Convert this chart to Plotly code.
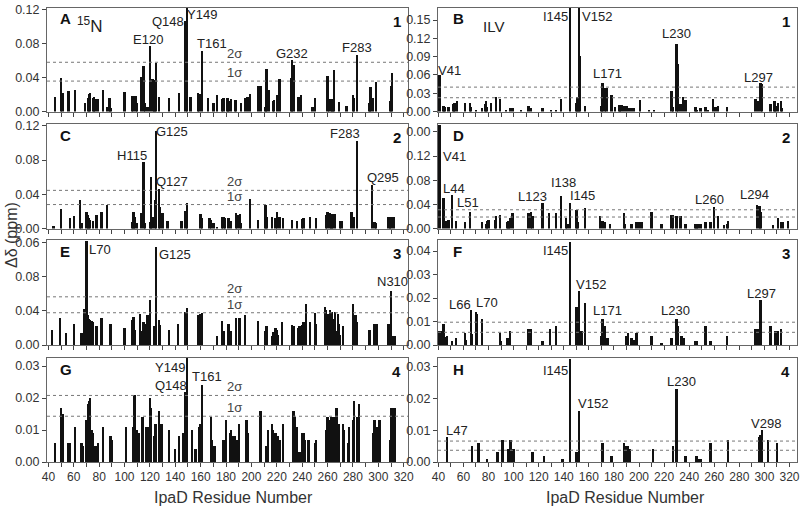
import plotly.graph_objects as go

# ---------------- data ----------------
A_res = [45,50,51,56,61,69,71,72,73,75,76,77,79,83,86,88,89,100,106,107,109,110,113,115,116,118,120,122,123,124,
         125,127,135,143,148,149,152,158,159,161,166,170,173,177,178,181,182,184,187,188,192,195,197,199,205,207,211,212,214,217,
         218,220,222,231,232,233,237,239,248,250,260,261,263,264,265,269,275,280,281,283,293,294,296,298,309,310,311]
A_val = [.018,.040,.022,.025,.026,.011,.017,.021,.022,.017,.018,.015,.015,.026,.006,.016,.005,.024,.019,.019,
         .019,.010,.041,.054,.011,.006,.077,.039,.038,.035,.058,.018,.017,.022,.107,.122,.018,.022,.021,.072,
         .017,.011,.020,.015,.016,.017,.013,.015,.014,.014,.011,.016,.018,.021,.031,.030,.006,.050,.026,.013,
         .014,.020,.039,.040,.061,.055,.018,.020,.006,.016,.042,.015,.015,.013,.049,.012,.007,.020,.017,.067,
         .011,.029,.017,.035,.013,.031,.046]

B_res = [41,44,45,48,52,53,55,61,65,66,70,75,77,78,79,82,86,89,94,97,99,106,112,114,123,130,134,138,145,150,
         151,152,153,157,170,171,173,174,178,181,184,185,186,188,190,192,194,196,201,208,212,226,227,230,231,233,235,237,245,246,
         249,253,255,259,261,263,270,293,295,297,298,305,308,309,311,313,314]
B_val = [.061,.010,.009,.008,.013,.015,.018,.014,.015,.008,.003,.007,.013,.018,.008,.015,.024,.022,.004,.006,
         .007,.004,.010,.007,.007,.003,.004,.021,.175,.015,.024,.175,.092,.010,.010,.048,.040,.039,.028,.008,
         .011,.011,.011,.010,.010,.006,.006,.006,.019,.003,.002,.035,.008,.112,.079,.013,.024,.019,.008,.004,
         .007,.008,.004,.021,.008,.010,.008,.022,.018,.048,.046,.013,.018,.010,.015,.018,.007]

C_res = [44,50,57,60,65,66,70,71,72,73,75,78,82,86,106,107,108,110,113,115,116,120,121,122,124,125,127,128,130,134,
         145,148,149,160,161,167,168,170,173,177,178,179,182,184,188,189,191,192,199,205,211,212,216,219,220,222,225,232,236,240,
         241,246,251,259,260,262,263,264,266,270,271,279,281,283,295,297,298,308,309,310,312]
C_val = [.003,.023,.012,.015,.033,.007,.019,.016,.012,.010,.009,.016,.019,.028,.008,.019,.014,.007,.018,.078,
         .007,.008,.060,.014,.033,.114,.046,.025,.018,.009,.009,.021,.030,.017,.012,.012,.010,.006,.002,.014,
         .014,.012,.012,.009,.018,.016,.017,.006,.034,.010,.028,.014,.014,.012,.019,.014,.012,.010,.009,.011,
         .012,.014,.012,.016,.019,.018,.016,.017,.017,.009,.009,.019,.014,.102,.051,.008,.007,.014,.014,.014,.014]

D_res = [41,44,46,48,51,54,61,65,75,78,79,80,85,86,89,95,96,97,99,112,114,115,123,128,134,138,142,143,145,150,
         151,157,169,171,173,177,188,189,194,198,200,202,210,218,226,227,230,233,237,245,246,247,249,253,257,260,263,268,270,271,
         294,296,297,307,311,313,315,319]
D_val = [.172,.050,.012,.014,.056,.012,.011,.027,.011,.008,.012,.014,.014,.020,.022,.011,.012,.017,.025,.025,
         .028,.020,.042,.025,.025,.053,.017,.008,.042,.031,.011,.034,.020,.012,.010,.008,.025,.008,.008,.011,
         .011,.011,.028,.008,.023,.022,.020,.020,.008,.008,.008,.008,.008,.010,.010,.036,.020,.006,.008,.012,
         .039,.037,.028,.006,.018,.011,.011,.012]

E_res = [43,49,54,60,66,68,70,71,72,73,74,75,78,82,89,100,106,107,108,112,114,115,117,118,120,123,125,127,128,135,
         142,148,149,158,160,161,173,177,178,182,184,188,190,191,195,205,211,212,216,217,219,220,221,224,232,233,237,238,240,241,
         243,246,250,251,258,259,260,261,262,263,264,265,266,267,268,269,270,272,280,282,283,293,297,299,308,309,310,312,313]
E_val = [.018,.031,.014,.025,.014,.042,.121,.035,.030,.029,.028,.027,.022,.032,.024,.020,.029,.033,.018,.036,
         .016,.027,.024,.035,.053,.022,.114,.029,.023,.018,.024,.038,.043,.035,.036,.037,.010,.028,.016,.024,
         .016,.031,.031,.031,.035,.028,.016,.022,.011,.015,.020,.018,.012,.027,.023,.022,.020,.022,.023,.027,
         .048,.027,.037,.024,.044,.041,.036,.030,.041,.038,.030,.022,.039,.016,.036,.025,.012,.022,.048,.035,
         .027,.018,.024,.025,.025,.025,.0635,.010,.010]

F_res = [41,42,44,45,47,51,54,61,62,66,67,70,71,75,89,90,95,97,112,114,123,129,134,145,150,151,152,154,157,170,
         171,173,175,190,191,194,196,198,210,218,226,230,231,234,236,245,246,253,257,270,293,295,297,305,309,311,313]
F_val = [.006,.006,.009,.0035,.004,.0015,.003,.005,.002,.015,.0045,.014,.013,.011,.005,.0015,.003,.006,.007,.007,
         .0017,.007,.008,.0437,.016,.016,.023,.006,.018,.004,.011,.008,.003,.004,.005,.003,.002,.005,.004,.001,
         .003,.011,.008,.004,.003,.0017,.0017,.008,.0017,.004,.007,.007,.019,.008,.006,.006,.007]

G_res = [45,50,51,56,57,61,66,67,70,71,72,73,74,75,77,79,83,89,90,101,107,108,110,111,114,117,119,120,121,123,
         124,125,127,128,129,135,140,143,146,148,149,153,156,159,160,161,168,169,171,178,180,183,184,186,187,189,190,196,197,207,
         212,213,216,217,219,220,221,222,225,233,234,236,238,240,241,242,245,250,251,259,260,261,263,264,265,267,268,269,272,273,
         276,277,280,281,283,285,296,297,299,300,301,309,310,312,313]
G_val = [.006,.017,.015,.006,.006,.011,.006,.005,.013,.018,.019,.020,.010,.009,.005,.006,.011,.008,.007,.011,
         .011,.021,.010,.009,.014,.011,.011,.020,.017,.008,.012,.012,.016,.011,.012,.010,.004,.008,.009,.022,
         .0325,.010,.004,.011,.012,.024,.014,.007,.005,.007,.013,.009,.010,.008,.008,.007,.012,.013,.009,.016,
         .005,.010,.012,.010,.009,.008,.008,.007,.012,.016,.014,.011,.003,.009,.009,.007,.007,.006,.007,.010,
         .014,.013,.014,.012,.014,.017,.006,.012,.012,.010,.006,.011,.013,.019,.014,.018,.009,.013,.011,.011,
         .013,.007,.017,.017,.017]

H_res = [47,67,72,79,87,91,96,97,98,100,115,124,139,145,150,152,171,178,188,190,191,192,193,211,227,230,237,246,247,249,
         257,271,296,297,298,303,310]
H_val = [.008,.005,.006,.001,.003,.007,.004,.007,.007,.004,.003,.002,.001,.0324,.003,.016,.006,.002,.006,.005,
         .005,.004,.004,.004,.005,.023,.002,.002,.001,.001,.006,.007,.008,.0085,.010,.007,.006]

# 1 sigma / 2 sigma thresholds per panel
sigma1 = {"A": .0357, "B": .0226, "C": .028, "D": .019, "E": .0377, "F": .0054, "G": .0143, "H": .0037}
sigma2 = {"A": .0578, "B": .040, "C": .0446, "D": .031, "E": .0563, "F": .0097, "G": .0208, "H": .0066}

# y tick values / labels (as printed in the figure)
A_yticks = [0, .04, .08, .12];          A_ytext = ["0.00", "0.04", "0.08", "0.12"]
B_yticks = [0, .03, .06, .09, .12, .15]; B_ytext = ["0.00", "0.03", "0.06", "0.09", "0.12", "0.15"]
C_yticks = [0, .04, .08, .12];          C_ytext = ["0.00", "0.04", "0.08", "0.12"]
D_yticks = [0, .04, .08, .12, .16];     D_ytext = ["0.00", "0.04", "0.08", "0.12", "0.00"]
E_yticks = [0, .04, .08, .12];          E_ytext = ["0.00", "0.04", "0.08", "0.06"]
F_yticks = [0, .01, .02, .03, .04];     F_ytext = ["0.00", "0.01", "0.02", "0.03", "0.04"]
G_yticks = [0, .01, .02, .03];          G_ytext = ["0.00", "0.01", "0.02", "0.03"]
H_yticks = [0, .01, .02, .03];          H_ytext = ["0.00", "0.01", "0.02", "0.03"]

x_major = list(range(40, 340, 20))
x_major_text = [str(v) for v in x_major]
x_minor = list(range(50, 330, 20))

# residue labels: (text, x, y)
A_labels = [("E120", 118.7, .0846), ("Q148", 134.5, .1054), ("Y149", 160.8, .1133), ("T161", 169.2, .0799),
            ("G232", 231.8, .068), ("F283", 283, .075)]
B_labels = [("V41", 48.5, .0676), ("I145", 133.6, .1555), ("V152", 166.7, .1555), ("L171", 174.6, .062),
            ("L230", 230, .128), ("L297", 294.9, .0555)]
C_labels = [("H115", 105.7, .085), ("G125", 137.2, .113), ("Q127", 137.2, .0545), ("F283", 273.8, .111),
            ("Q295", 304, .060)]
D_labels = [("V41", 53, .120), ("L44", 52.2, .066), ("L51", 63.6, .0436), ("L123", 115.1, .053),
            ("I138", 139.4, .0754), ("I145", 155.3, .054), ("L260", 256.5, .0475), ("L294", 292.2, .0559)]
E_labels = [("L70", 80.6, .1118), ("G125", 139.8, .1059), ("N310", 311.5, .0737)]
F_labels = [("L66", 57.5, .0173), ("L70", 78.6, .0182), ("I145", 133.6, .0404), ("V152", 162.1, .0258),
            ("L171", 174.6, .0149), ("L230", 229.4, .0149), ("L297", 297.5, .022)]
G_labels = [("Y149", 135.9, .0294), ("Q148", 136.4, .0238), ("T161", 165.3, .0266)]
H_labels = [("L47", 54.9, .010), ("I145", 133.6, .029), ("V152", 163.4, .0184), ("L230", 233.5, .0255),
            ("V298", 301.5, .0121)]

panel_numbers = {"A": "1", "B": "1", "C": "2", "D": "2", "E": "3", "F": "3", "G": "4", "H": "4"}

# ---------------- layout geometry ----------------
W, H = 800, 507
left_dom = [47 / W, 408 / W]
right_dom = [438 / W, 797 / W]
rows_px = [(7.5, 111.5), (124, 228.5), (240, 345), (358, 462)]
y_tops = {"A": .1221, "B": .1706, "C": .1222, "D": .173, "E": .1227, "F": .0447, "G": .0325, "H": .0328}
x_range_left = [38.9, 323.4]
x_range_right = [39.7, 326.0]

panels = [
    ("A", A_res, A_val, A_yticks, A_ytext, A_labels),
    ("B", B_res, B_val, B_yticks, B_ytext, B_labels),
    ("C", C_res, C_val, C_yticks, C_ytext, C_labels),
    ("D", D_res, D_val, D_yticks, D_ytext, D_labels),
    ("E", E_res, E_val, E_yticks, E_ytext, E_labels),
    ("F", F_res, F_val, F_yticks, F_ytext, F_labels),
    ("G", G_res, G_val, G_yticks, G_ytext, G_labels),
    ("H", H_res, H_val, H_yticks, H_ytext, H_labels),
]

FONT = "Liberation Sans, Arial, sans-serif"
fig = go.Figure()
annotations = []
shapes = []
layout = {}

for i, (name, res, val, yt, ytt, labels) in enumerate(panels):
    n = "" if i == 0 else str(i + 1)
    row = i // 2
    is_left = (i % 2 == 0)
    top_px, bot_px = rows_px[row]
    xr = x_range_left if is_left else x_range_right

    fig.add_trace(go.Bar(x=res, y=val, width=1.9, marker=dict(color="#111", line=dict(width=0)),
                         xaxis="x" + n, yaxis="y" + n, showlegend=False, hoverinfo="x+y"))

    layout["xaxis" + n] = dict(
        domain=left_dom if is_left else right_dom, range=xr, anchor="y" + n, automargin=False,
        tickmode="array", tickvals=x_major, ticktext=x_major_text, ticklabeloverflow="allow",
        minor=dict(tickmode="array", tickvals=x_minor, ticks="outside", ticklen=4, tickcolor="#444", showgrid=False),
        showticklabels=(row == 3), ticks="outside", ticklen=4, tickcolor="#444",
        showline=True, mirror=True, linecolor="#666", linewidth=1,
        showgrid=False, zeroline=False, tickfont=dict(family=FONT, size=12, color="#333"))
    layout["yaxis" + n] = dict(
        domain=[1 - bot_px / H, 1 - top_px / H], range=[0, y_tops[name]], anchor="x" + n, automargin=False,
        tickmode="array", tickvals=yt, ticktext=ytt, ticklabeloverflow="allow",
        ticks="outside", ticklen=4, tickcolor="#444",
        showline=True, mirror=True, linecolor="#666", linewidth=1,
        showgrid=False, zeroline=False, tickfont=dict(family=FONT, size=12.5, color="#333"))

    for s in (sigma1[name], sigma2[name]):
        shapes.append(dict(type="line", xref="x" + n + " domain", yref="y" + n, x0=0, x1=1, y0=s, y1=s,
                           line=dict(color="#777", width=1, dash="dot"), layer="above"))

    # panel letter and number
    annotations.append(dict(xref="x" + n + " domain", yref="y" + n + " domain", x=0.03 if is_left else 0.035,
                            y=0.89, text="<b>%s</b>" % name, showarrow=False, xanchor="left", yanchor="middle",
                            font=dict(family=FONT, size=15, color="#111")))
    annotations.append(dict(xref="x" + n + " domain", yref="y" + n + " domain", x=0.985, y=0.87,
                            text="<b>%s</b>" % panel_numbers[name], showarrow=False, xanchor="right",
                            yanchor="middle", font=dict(family=FONT, size=15, color="#111")))
    for (t, lx, ly) in labels:
        annotations.append(dict(xref="x" + n, yref="y" + n, x=lx, y=ly, text=t, showarrow=False,
                                xanchor="center", yanchor="middle",
                                font=dict(family=FONT, size=13, color="#222")))
    if is_left:
        for (t, s) in (("2σ", sigma2[name]), ("1σ", sigma1[name])):
            annotations.append(dict(xref="x" + n, yref="y" + n, x=187, y=s, text=t, showarrow=False,
                                    xanchor="center", yanchor="bottom", yshift=-1,
                                    font=dict(family=FONT, size=13, color="#444")))

# isotope labels
annotations.append(dict(xref="x", yref="y", x=72.8, y=.1015, text="<sup>15</sup>N", showarrow=False,
                        font=dict(family=FONT, size=17, color="#222")))
annotations.append(dict(xref="x2", yref="y2", x=84.2, y=.140, text="ILV", showarrow=False,
                        font=dict(family=FONT, size=15, color="#222")))

# axis titles
for xc in (233 / W, 625 / W):
    annotations.append(dict(xref="paper", yref="paper", x=xc, y=1 - 497 / H, text="IpaD Residue Number",
                            showarrow=False, xanchor="center", yanchor="middle",
                            font=dict(family=FONT, size=16, color="#333")))
annotations.append(dict(xref="paper", yref="paper", x=12 / W, y=1 - 235 / H, text="Δδ (ppm)", textangle=-90,
                        showarrow=False, xanchor="center", yanchor="middle",
                        font=dict(family=FONT, size=16, color="#333")))

fig.update_layout(width=W, height=H, margin=dict(l=0, r=0, t=0, b=0, autoexpand=False), plot_bgcolor="white",
                  paper_bgcolor="white", annotations=annotations, shapes=shapes, bargap=0, **layout)

fig.write_html("out.html", config={"displayModeBar": False},
               post_script="document.body.style.margin='0';document.body.style.overflow='hidden';")
